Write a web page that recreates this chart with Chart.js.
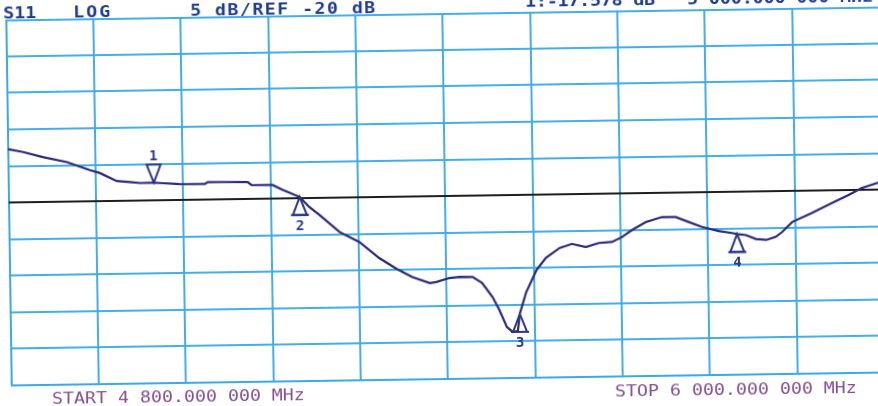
<!DOCTYPE html>
<html>
<head>
<meta charset="utf-8">
<script src="https://cdn.jsdelivr.net/npm/chart.js@4"></script>
<style>
  html, body { margin: 0; padding: 0; background: #ffffff; width: 878px; height: 406px; overflow: hidden; }
  #wrap { position: absolute; left: -10px; top: -10px; width: 910px; height: 430px;
          transform: rotate(-0.85deg); transform-origin: 456px 206px; filter: blur(0.45px); }
  canvas { display: block; }
</style>
</head>
<body>
<div id="wrap"><canvas id="c" width="910" height="430"></canvas></div>
<script>
// ---- data ----
const freqMHz = [4800, 4821, 4848, 4881, 4912, 4926, 4949, 4967, 4981, 5000, 5008, 5035, 5070, 5074, 5129, 5134, 5163, 5177, 5200, 5213, 5227, 5254, 5281, 5308, 5332, 5353, 5377, 5386, 5404, 5418, 5436, 5449, 5463, 5472, 5482, 5490, 5497, 5500, 5509, 5524, 5537, 5556, 5573, 5592, 5610, 5628, 5642, 5656, 5675, 5697, 5716, 5734, 5752, 5775, 5793, 5800, 5812, 5826, 5840, 5853, 5862, 5876, 5903, 5931, 5954, 5972, 5993, 6000];
const s11dB = [-12.68, -13.11, -13.85, -14.58, -15.72, -16.15, -17.28, -17.44, -17.6, -17.58, -17.64, -17.82, -17.86, -17.6, -17.68, -18.1, -18.14, -18.84, -19.84, -21.23, -22.35, -24.71, -26.13, -28.36, -29.9, -31.03, -31.89, -31.77, -31.24, -31.12, -31.15, -31.99, -33.94, -35.73, -38.06, -38.76, -38.63, -36.3, -33.4, -30.3, -28.68, -27.35, -26.82, -27.27, -26.75, -26.64, -25.98, -25.04, -23.97, -23.32, -23.34, -24.06, -24.76, -25.35, -25.65, -25.8, -25.96, -26.52, -26.67, -26.28, -25.62, -24.26, -23.07, -21.74, -20.67, -19.75, -19.1, -18.9];
const startMHz = 4800;
const stopMHz = 6000;
const refDb = -20;
const dbPerDiv = 5;
const markerNums = ['1', '2', '3', '4'];
const markerFreqs = [5000, 5200, 5500, 5800];
const markerDb = [-17.578, -19.84, -36.3, -25.8];
const headerLabels = ['S11', 'LOG', '5 dB/REF -20 dB', '1:-17.578 dB', '5 000.000 000 MHz'];
const footerLabels = ['START 4 800.000 000 MHz', 'STOP 6 000.000 000 MHz'];

// ---- styling / layout (not data) ----
const GRID = 'rgba(58,170,234,0.95)';
const TRACE = '#2a2a78';
const MARK = '#2a3480';
const HEAD = '#1e3c8c';
const FOOT = '#83508c';
const FONT = "'DejaVu Sans Mono', 'Liberation Mono', monospace";

const headerPos = [[16, 22, 0], [86, 22, 37], [203, 22, 185], [538, 18, 130], [700, 18, 186]];
const footerPos = [[59, 408, 253], [622, 409, 242]];
const SX = 1.22;

function fitText(ctx, text, x, y, width) {
  ctx.save();
  ctx.translate(x, y);
  ctx.scale(SX, 1);
  if ('letterSpacing' in ctx) ctx.letterSpacing = '0px';
  const w0 = ctx.measureText(text).width;
  if (width > 0 && 'letterSpacing' in ctx && text.length > 1) {
    ctx.letterSpacing = ((width / SX - w0) / (text.length - 1)).toFixed(2) + 'px';
  }
  ctx.fillText(text, 0, 0);
  ctx.restore();
}

const overlay = {
  id: 'overlay',
  afterDatasetsDraw(chart) {
    const ctx = chart.ctx;
    const xs = chart.scales.x, ys = chart.scales.y;
    ctx.save();
    // markers
    ctx.strokeStyle = MARK;
    ctx.fillStyle = MARK;
    ctx.lineWidth = 2;
    ctx.font = 'bold 14px ' + FONT;
    ctx.textAlign = 'center';
    ctx.textBaseline = 'alphabetic';
    markerFreqs.forEach((f, i) => {
      const px = xs.getPixelForValue(f);
      const py = ys.getPixelForValue(markerDb[i]);
      ctx.beginPath();
      if (i === 0) {
        ctx.moveTo(px, py);
        ctx.lineTo(px - 7, py - 18);
        ctx.lineTo(px + 7, py - 18);
        ctx.closePath();
        ctx.stroke();
        ctx.fillText(markerNums[i], px, py - 22);
      } else {
        ctx.moveTo(px, py);
        ctx.lineTo(px - 7, py + 18);
        ctx.lineTo(px + 7, py + 18);
        ctx.closePath();
        ctx.stroke();
        ctx.beginPath();
        ctx.moveTo(px - 9, py + 18);
        ctx.lineTo(px + 9, py + 18);
        ctx.stroke();
        ctx.fillText(markerNums[i], px, py + 33);
      }
    });
    // header and footer texts
    ctx.textAlign = 'left';
    ctx.textBaseline = 'alphabetic';
    ctx.font = 'bold 15px ' + FONT;
    ctx.fillStyle = HEAD;
    headerLabels.forEach((t, i) => fitText(ctx, t, headerPos[i][0], headerPos[i][1], headerPos[i][2]));
    ctx.font = '15px ' + FONT;
    ctx.fillStyle = FOOT;
    footerLabels.forEach((t, i) => fitText(ctx, t, footerPos[i][0], footerPos[i][1], footerPos[i][2]));
    ctx.restore();
  }
};

const tracePts = freqMHz.map((f, i) => ({ x: f, y: s11dB[i] }));
const refPts = [{ x: startMHz, y: refDb }, { x: stopMHz, y: refDb }];

new Chart(document.getElementById('c'), {
  type: 'line',
  data: {
    datasets: [
      { label: 'S11', data: tracePts, borderColor: TRACE, borderWidth: 2.2, pointRadius: 0, tension: 0, fill: false, order: 1 },
      { label: 'REF', data: refPts, borderColor: '#1e1e1e', borderWidth: 2.2, pointRadius: 0, tension: 0, fill: false, order: 2 }
    ]
  },
  options: {
    responsive: false,
    animation: false,
    devicePixelRatio: 1,
    layout: { padding: { left: 18.5, top: 23.5, right: 18, bottom: 41.5 } },
    plugins: { legend: { display: false }, tooltip: { enabled: false }, title: { display: false } },
    scales: {
      x: {
        type: 'linear', min: startMHz, max: stopMHz,
        ticks: { display: false, stepSize: (stopMHz - startMHz) / 10 },
        grid: { color: GRID, lineWidth: 2, drawTicks: false },
        border: { color: GRID, width: 2 }
      },
      y: {
        type: 'linear', min: refDb - 5 * dbPerDiv, max: refDb + 5 * dbPerDiv,
        ticks: { display: false, stepSize: dbPerDiv },
        grid: { color: GRID, lineWidth: 2, drawTicks: false },
        border: { color: GRID, width: 2 }
      }
    }
  },
  plugins: [overlay]
});
</script>
</body>
</html>
